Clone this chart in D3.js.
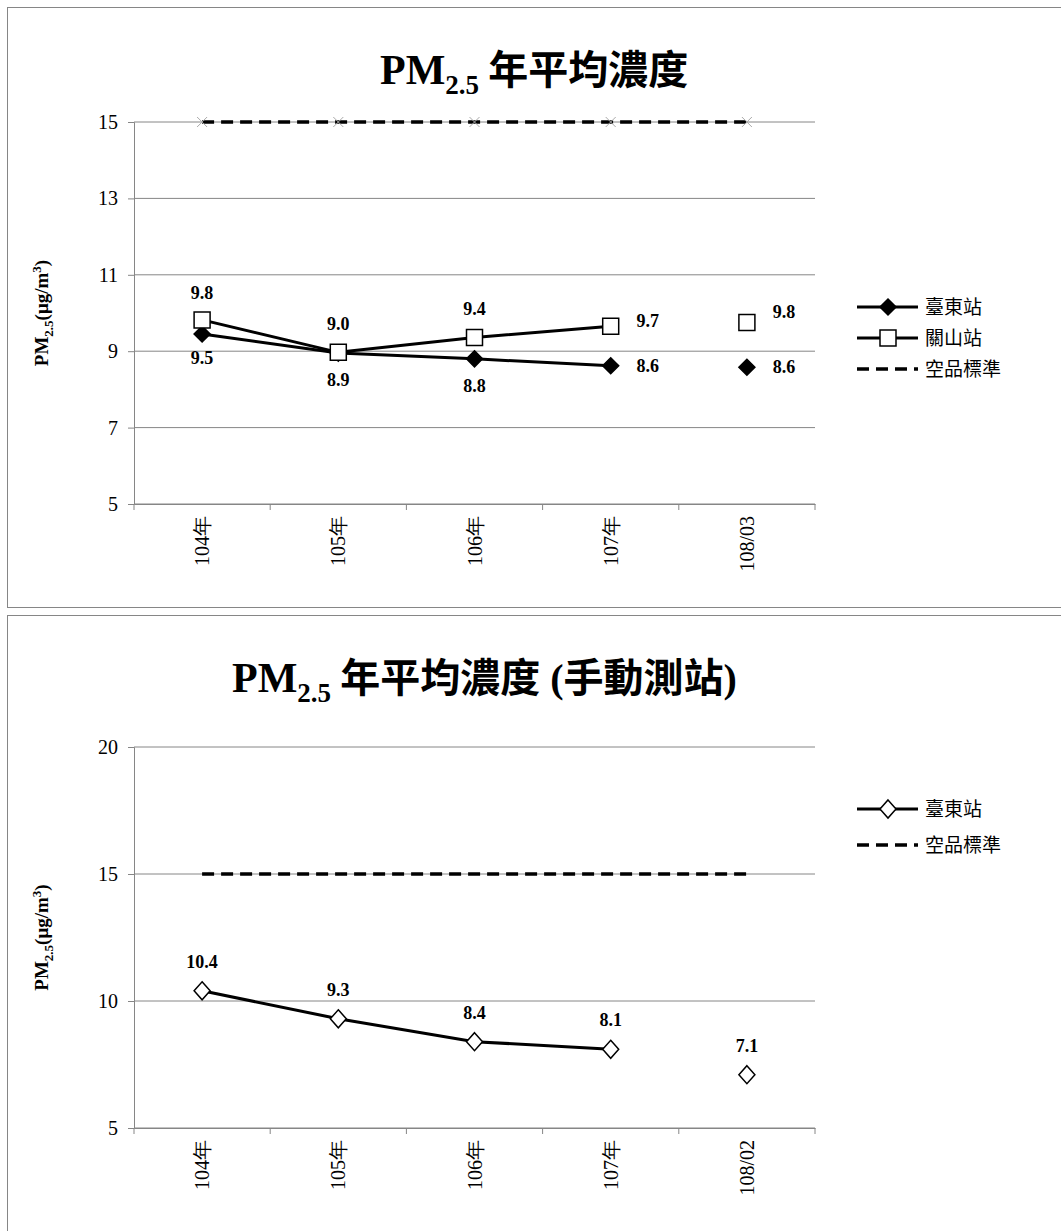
<!DOCTYPE html>
<html><head><meta charset="utf-8">
<script src="https://cdn.jsdelivr.net/npm/d3@7"></script>
<style>body{margin:0;background:#fff}</style>
</head><body>
<svg id="c" width="1061" height="1231"></svg>
<script>
var cats1 = ["104年", "105年", "106年", "107年", "108/03"];
var taitung1 = [9.45, 8.95, 8.8, 8.62, 8.58];
var guanshan1 = [9.82, 8.97, 9.36, 9.65, 9.75];
var taitungLbl1 = ["9.5", "8.9", "8.8", "8.6", "8.6"];
var guanshanLbl1 = ["9.8", "9.0", "9.4", "9.7", "9.8"];
var std1 = [15, 15, 15, 15, 15];
var ticks1 = [5, 7, 9, 11, 13, 15];

var cats2 = ["104年", "105年", "106年", "107年", "108/02"];
var taitung2 = [10.4, 9.3, 8.4, 8.1, 7.1];
var taitungLbl2 = ["10.4", "9.3", "8.4", "8.1", "7.1"];
var std2 = [15, 15, 15, 15, 15];
var ticks2 = [5, 10, 15, 20];

var svg = d3.select("#c");
var serif = "'Liberation Serif','Times New Roman',serif";
var cjk = "'Noto Sans CJK TC',sans-serif";

function chart(o) {
  var g = svg.append("g");
  g.append("rect").attr("x", 7.5).attr("y", o.boxY + 0.5).attr("width", 1060).attr("height", o.boxH)
    .attr("fill", "#fff").attr("stroke", "#868686");

  var x = d3.scaleBand().domain(o.cats).range([134, 815]);
  var y = d3.scaleLinear().domain(o.domain).range([o.y0, o.y1]);
  var cx = function(i) { return x(o.cats[i]) + x.bandwidth() / 2; };

  // title
  var t = g.append("text").attr("x", o.titleX).attr("y", o.boxY + 77).attr("font-weight", "bold");
  t.append("tspan").attr("font-family", serif).attr("font-size", 42).text("PM");
  t.append("tspan").attr("font-family", serif).attr("font-size", 27).attr("dy", 10).text("2.5");
  t.append("tspan").attr("font-family", cjk).attr("font-size", 40).attr("dy", -10).text(" " + o.title);
  if (o.title2) {
    t.append("tspan").attr("font-family", serif).attr("font-size", 40).text(" (");
    t.append("tspan").attr("font-family", cjk).attr("font-size", 40).text(o.title2);
    t.append("tspan").attr("font-family", serif).attr("font-size", 40).text(")");
  }

  // gridlines
  g.selectAll(".grid").data(o.ticks).enter().append("line")
    .attr("x1", 134).attr("x2", 815).attr("y1", function(d) { return y(d); }).attr("y2", function(d) { return y(d); })
    .attr("stroke", "#868686").attr("stroke-width", 1);

  var ya = d3.axisLeft(y).tickValues(o.ticks).tickSize(6).tickPadding(10);
  var yg = g.append("g").attr("transform", "translate(134,0)").call(ya);
  yg.selectAll("text").attr("font-family", serif).attr("font-size", 20).attr("fill", "#000");
  yg.selectAll("line,path").attr("stroke", "#868686");

  var xa = d3.axisBottom(x).tickSize(0).tickFormat("");
  var xg = g.append("g").attr("transform", "translate(0," + o.y0 + ")").call(xa);
  xg.select("path").attr("stroke", "#868686");
  g.selectAll(".xt").data(d3.range(o.cats.length + 1)).enter().append("line")
    .attr("x1", function(i) { return 134 + i * x.bandwidth(); }).attr("x2", function(i) { return 134 + i * x.bandwidth(); })
    .attr("y1", o.y0).attr("y2", o.y0 + 6).attr("stroke", "#868686");
  g.selectAll(".xl").data(o.cats).enter().append("text")
    .attr("transform", function(d, i) { return "translate(" + (cx(i) + 7) + "," + (o.y0 + 12) + ") rotate(-90)"; })
    .attr("text-anchor", "end").attr("font-family", serif).attr("font-size", 20).text(function(d) { return d; });

  // y label
  var yl = g.append("text").attr("transform", "translate(48," + ((o.y0 + o.y1) / 2) + ") rotate(-90)")
    .attr("text-anchor", "middle").attr("font-family", serif).attr("font-weight", "bold").attr("font-size", 19);
  yl.append("tspan").text("PM");
  yl.append("tspan").attr("font-size", 13).attr("dy", 5).text("2.5");
  yl.append("tspan").attr("dy", -5).text("(μg/m");
  yl.append("tspan").attr("font-size", 13).attr("dy", -7).text("3");
  yl.append("tspan").attr("dy", 7).text(")");

  // standard line
  g.append("path").datum(o.std).attr("fill", "none").attr("stroke", "#000").attr("stroke-width", 3.5)
    .attr("stroke-dasharray", "12,7")
    .attr("d", d3.line().x(function(d, i) { return cx(i); }).y(function(d) { return y(d); }));
  if (o.stdMarks) {
    g.selectAll(".sm").data(o.std).enter().append("path")
      .attr("transform", function(d, i) { return "translate(" + cx(i) + "," + y(d) + ")"; })
      .attr("d", "M-5,-5L5,5M-5,5L5,-5").attr("stroke", "#aaa").attr("stroke-width", 1);
  }

  var line = d3.line().defined(function(d, i) { return i < 4; })
    .x(function(d, i) { return cx(i); }).y(function(d) { return y(d); });

  o.series.forEach(function(s) {
    g.append("path").datum(s.values).attr("fill", "none").attr("stroke", "#000").attr("stroke-width", 3).attr("d", line);
    g.selectAll(null).data(s.values).enter().append("path")
      .attr("transform", function(d, i) { return "translate(" + cx(i) + "," + y(d) + ")"; })
      .attr("d", s.shape).attr("fill", s.fill).attr("stroke", "#000").attr("stroke-width", 1.5);
    g.selectAll(null).data(s.values).enter().append("text")
      .attr("x", function(d, i) { return cx(i) + s.off[i][0]; })
      .attr("y", function(d, i) { return y(d) + s.off[i][1]; })
      .attr("text-anchor", "middle").attr("font-family", serif).attr("font-weight", "bold").attr("font-size", 18)
      .text(function(d, i) { return s.labels[i]; });
  });

  // legend
  o.legend.forEach(function(l, i) {
    var ly = o.legY + i * o.legStep;
    g.append("line").attr("x1", 857).attr("x2", 918).attr("y1", ly).attr("y2", ly).attr("stroke", "#000")
      .attr("stroke-width", l.dash ? 3.5 : 3).attr("stroke-dasharray", l.dash ? "12,7" : null);
    if (l.shape) g.append("path").attr("transform", "translate(888," + ly + ")").attr("d", l.shape)
      .attr("fill", l.fill).attr("stroke", "#000").attr("stroke-width", 1.5);
    g.append("text").attr("x", 925).attr("y", ly + 7).attr("font-family", cjk).attr("font-size", 19).text(l.name);
  });
}

var diamond = "M0,-8L8,0L0,8L-8,0Z";
var square = "M-8,-8H8V8H-8Z";

chart({
  boxY: 7, boxH: 600, titleX: 380, title: "年平均濃度",
  cats: cats1, domain: [5, 15], y0: 504, y1: 122, ticks: ticks1, std: std1, stdMarks: true,
  series: [
    { values: taitung1, labels: taitungLbl1, shape: diamond, fill: "#000",
      off: [[0, 30], [0, 33], [0, 33], [37, 6], [37, 6]] },
    { values: guanshan1, labels: guanshanLbl1, shape: square, fill: "#fff",
      off: [[0, -21], [0, -22], [0, -22], [37, 1], [37, -5]] }
  ],
  legY: 307, legStep: 31,
  legend: [{ name: "臺東站", shape: diamond, fill: "#000" }, { name: "關山站", shape: square, fill: "#fff" }, { name: "空品標準", dash: true }]
});

chart({
  boxY: 615, boxH: 620, titleX: 232, title: "年平均濃度", title2: "手動測站",
  cats: cats2, domain: [5, 20], y0: 1128, y1: 747, ticks: ticks2, std: std2, stdMarks: false,
  series: [
    { values: taitung2, labels: taitungLbl2, shape: "M0,-9L8,0L0,9L-8,0Z", fill: "#fff",
      off: [[0, -23], [0, -23], [0, -23], [0, -23], [0, -23]] }
  ],
  legY: 809, legStep: 36,
  legend: [{ name: "臺東站", shape: "M0,-9L8,0L0,9L-8,0Z", fill: "#fff" }, { name: "空品標準", dash: true }]
});
</script>
</body></html>
